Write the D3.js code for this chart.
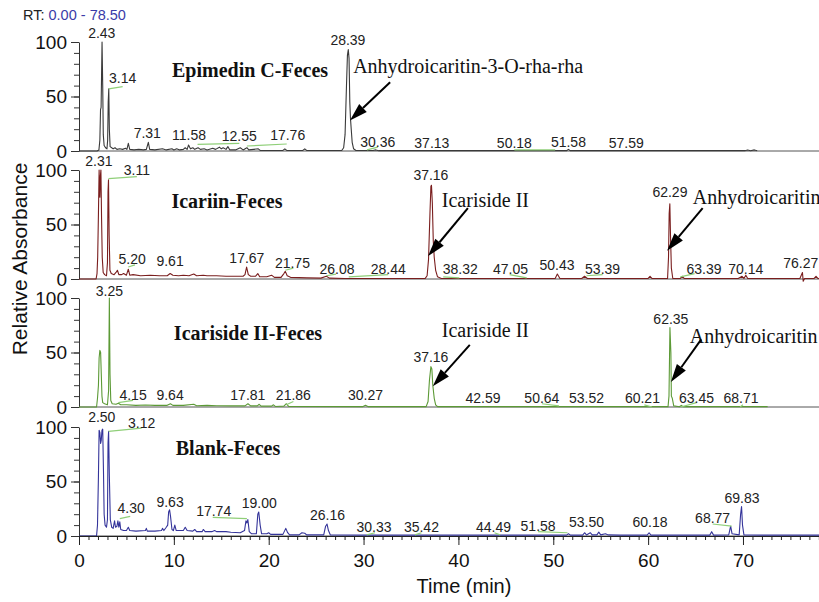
<!DOCTYPE html>
<html>
<head>
<meta charset="utf-8">
<script src="https://cdn.jsdelivr.net/npm/d3@7"></script>
<style>
  body { margin: 0; background: #fff; }
  svg { display: block; font-family: Arial, "Liberation Sans", sans-serif; }
</style>
</head>
<body>
<div id="js_chart"></div>
<script>
// ---- data: [time (min), relative absorbance] ----
const panelNames = ["Epimedin C-Feces", "Icariin-Feces", "Icariside II-Feces", "Blank-Feces"];
const panelColors = ["#3a3a3a", "#7a1e1e", "#5c9a36", "#34349a"];

const epimedinTrace = [[0,0],[1.9,0],[2.1,1],[2.2,10],[2.27,38],[2.33,40],[2.38,70],[2.43,100],[2.5,60],[2.56,15],[2.65,5],[2.8,3],[2.95,2],[3.02,10],[3.08,45],[3.14,57],[3.2,20],[3.28,4],[3.45,3],[3.6,2],[3.8,3],[4.0,1.5],[4.3,2],[4.6,1.5],[4.9,2.5],[5.05,1.5],[5.2,7],[5.35,1.5],[5.8,1],[6.3,1.5],[6.8,1],[7.1,1.5],[7.31,8],[7.45,1.5],[8.0,1],[8.8,2],[9.2,1],[9.8,2],[10.0,1],[10.3,2],[10.6,1],[11.0,1.5],[11.2,3],[11.4,1.5],[11.55,5.5],[11.75,2],[12.0,3],[12.2,1.5],[12.55,3],[12.8,1.5],[13.2,2],[13.5,1],[14.1,2.5],[14.4,1.5],[14.8,3.5],[15.0,2],[15.2,3],[15.5,1.5],[15.7,4],[15.9,1],[16.5,1],[17.0,3],[17.3,1],[17.7,3],[17.9,1],[18.9,2],[19.1,0.5],[21.5,0.5],[21.7,2],[21.9,0.5],[23.6,0.5],[23.8,2],[24.0,0.5],[27.7,0.5],[27.9,3],[28.05,15],[28.2,60],[28.3,88],[28.39,93],[28.47,85],[28.55,45],[28.62,30],[28.7,20],[28.8,8],[28.95,2],[29.2,0.5],[31.0,0.5],[31.3,1],[31.6,0.3],[51.4,0.3],[51.6,1.5],[51.8,0.3],[70.2,0.3],[70.5,1],[70.8,0.3],[71.2,1],[71.5,0.3]];

const icariinTrace = [[0,0],[1.8,0],[1.9,5],[1.97,20],[2.05,60],[2.12,100],[2.2,75],[2.26,95],[2.31,100],[2.38,55],[2.45,20],[2.55,6],[2.7,4],[2.9,3],[3.0,15],[3.06,80],[3.11,91],[3.18,40],[3.26,8],[3.4,5],[3.7,4],[3.9,6],[4.05,8],[4.2,4],[4.5,4],[4.7,5],[5.0,3.5],[5.2,9],[5.35,3.5],[5.7,4],[6.5,3],[7.5,3.5],[8.5,3],[9.3,3],[9.61,5],[9.9,3.5],[10.5,3],[11.0,3.5],[11.6,3],[12.1,4.5],[12.4,3],[13.1,3.5],[13.5,3],[14.5,3],[15.5,2.5],[16.5,2.5],[17.3,2.5],[17.5,4],[17.67,11],[17.85,4],[18.1,2.5],[18.6,2.5],[18.85,5],[19.05,2],[19.8,2],[20.3,3.5],[20.6,1.5],[21.3,1.5],[21.6,5],[21.75,7],[21.95,3],[22.3,1.5],[24.0,1],[25.5,0.8],[26.08,2.5],[26.4,0.8],[28.0,0.5],[33.0,0.5],[36.5,0.6],[36.7,3],[36.85,18],[37.0,60],[37.1,85],[37.16,86],[37.25,70],[37.35,35],[37.45,20],[37.6,8],[37.8,2],[38.2,0.5],[44.0,0.5],[50.2,0.5],[50.43,4.5],[50.7,0.5],[53.0,0.5],[53.3,2.5],[53.6,0.5],[60.0,0.5],[60.2,2.5],[60.4,0.5],[62.05,0.5],[62.15,20],[62.22,60],[62.29,69],[62.36,40],[62.45,10],[62.6,0.5],[63.4,0.5],[63.6,2.5],[63.8,0.5],[69.5,0.5],[69.9,2.5],[70.1,0.5],[70.3,3.5],[70.5,0.5],[76.0,0.5],[76.27,6],[76.35,-2],[76.5,0.5],[77.5,0.5],[77.7,2.5],[77.9,0.5],[78.5,0.5]];

const icarisideTrace = [[0,0],[1.85,0],[1.95,8],[2.05,20],[2.12,45],[2.2,52],[2.28,50],[2.35,30],[2.42,10],[2.5,4],[2.7,3],[3.0,2],[3.12,15],[3.2,100],[3.27,30],[3.35,6],[3.5,3],[3.9,2.5],[4.15,3.5],[4.4,2],[5.0,2],[6.0,1.5],[7.0,1.8],[8.0,1.5],[9.3,1.5],[9.64,3],[9.9,1.5],[11.0,1.5],[12.1,2.5],[12.4,1.2],[13.5,1.5],[14.5,1.2],[16.0,1],[17.5,1],[17.81,3],[18.1,1],[18.8,1],[19.0,2.5],[19.2,0.8],[20.3,0.8],[20.5,2],[20.7,0.5],[21.6,0.8],[21.86,3],[22.1,0.5],[29.9,0.3],[30.2,1.5],[30.5,0.3],[36.6,0.3],[36.8,5],[36.95,25],[37.1,37],[37.2,35],[37.3,20],[37.45,8],[37.6,2],[37.8,0.3],[62.1,0.3],[62.2,10],[62.3,73],[62.4,50],[62.45,10],[62.55,8],[62.7,1],[63.3,0.3],[63.5,1.5],[63.7,0.3],[72.6,0.3]];

const blankTrace = [[0,0],[1.85,0],[1.95,10],[2.05,55],[2.12,97],[2.2,95],[2.28,85],[2.35,88],[2.42,97],[2.5,98],[2.58,60],[2.65,20],[2.75,10],[2.9,8],[3.0,15],[3.06,85],[3.12,96],[3.2,55],[3.3,15],[3.45,8],[3.6,7],[3.75,14],[3.85,8],[4.0,9],[4.1,14],[4.2,8],[4.3,13],[4.4,6],[4.7,5],[5.0,5],[5.2,8],[5.35,5],[6.0,4.5],[7.0,5],[7.1,7],[7.2,4.5],[8.0,4.5],[8.7,5],[8.8,7],[8.95,5],[9.2,8],[9.35,10],[9.45,22],[9.55,24],[9.65,18],[9.8,6],[9.95,5],[10.1,10],[10.25,5],[11.0,5],[11.2,8],[11.4,5],[12.0,4.5],[12.2,6],[12.4,4],[13.0,4],[13.1,6],[13.3,4],[14.0,4],[14.3,5],[14.5,4],[15.5,4],[16.0,3.5],[17.0,3],[17.45,5],[17.6,14],[17.7,12],[17.8,15],[17.95,4],[18.2,2],[18.7,2],[18.85,20],[18.95,22],[19.1,10],[19.25,2],[19.8,2],[20.0,3],[20.2,1.5],[21.5,1.5],[21.8,7],[22.0,3],[22.2,1],[23.2,1],[23.5,3],[23.8,2.5],[24.0,1],[25.8,1],[26.0,9],[26.15,11],[26.3,5],[26.5,1],[30.0,0.8],[51.4,0.8],[51.6,2],[51.8,0.8],[53.1,0.8],[53.3,3],[53.5,1],[53.9,3],[54.1,1],[54.6,1],[54.8,3.5],[55.0,1],[55.5,2],[55.8,1],[57.0,0.8],[59.9,0.8],[60.1,3],[60.3,0.8],[66.5,0.8],[66.7,4],[66.9,0.8],[68.5,1],[68.7,9],[68.85,2],[69.6,1],[69.75,20],[69.85,27],[69.95,10],[70.1,1],[72.0,0.8],[78.5,0.8]];

const traces = [epimedinTrace, icariinTrace, icarisideTrace, blankTrace];

// peak labels: [text, time, absorbance]
const epimedinLabels = [["2.43",2.4,104],["3.14",4.6,62],["7.31",7.2,12],["11.58",11.6,10],["12.55",16.9,9],["17.76",22.0,10],["28.39",28.35,97],["30.36",31.5,4],["37.13",37.2,3],["50.18",45.9,3],["51.58",51.6,4],["57.59",57.7,3]];
const icariinLabels = [["2.31",2.1,104],["3.11",6.1,95],["5.20",5.6,14],["9.61",9.6,12],["17.67",17.7,15],["21.75",22.5,10],["26.08",27.2,5],["28.44",32.6,5],["37.16",37.1,91],["38.32",40.2,5],["47.05",45.5,5],["50.43",50.4,8],["53.39",55.2,5],["62.29",62.3,75],["63.39",65.9,5],["70.14",70.3,5],["76.27",76.1,10]];
const icarisideLabels = [["3.25",3.2,102],["4.15",5.7,6],["9.64",9.6,6],["17.81",17.8,6],["21.86",22.6,6],["30.27",30.2,6],["37.16",37.1,41],["42.59",42.6,4],["50.64",48.8,4],["53.52",53.5,4],["60.21",59.4,4],["62.35",62.4,76],["63.45",65.1,4],["68.71",69.8,4]];
const blankLabels = [["2.50",2.4,105],["3.12",6.6,99],["4.30",5.5,21],["9.63",9.6,27],["17.74",14.2,18],["19.00",19.0,26],["26.16",26.2,15],["30.33",31.1,4],["35.42",36.1,4],["44.49",43.7,4],["51.58",48.4,5],["53.50",53.5,8],["60.18",60.2,8],["68.77",66.8,12],["69.83",69.9,30]];
const labels = [epimedinLabels, icariinLabels, icarisideLabels, blankLabels];

// green leader lines: [t1, v1, t2, v2]
const epimedinLeaders = [[3.14,57,4.6,59],[12.5,6,16.9,7],[17.7,4.6,21.9,6.4],[30.36,1,31.5,3.5],[45.9,1,50.2,1]];
const icariinLeaders = [[3.11,92,6.1,94],[5.2,11,5.9,13],[21.75,8,22.6,10],[26.08,3,27.1,4.5],[28.44,2,32.6,4],[38.4,2,40.1,1],[45.4,4,47.2,1],[53.5,3,55.2,4],[63.4,2,64.9,5]];
const icarisideLeaders = [[4.15,4,5.7,6],[21.86,2,22.6,5],[48.8,3,50.6,1],[59.6,2,60.4,0],[63.45,0,65.1,4],[69.7,0,70.0,2]];
const blankLeaders = [[3.12,96,6.6,99],[4.3,16,5.4,18],[14.1,17,17.7,16],[30.33,1,31.2,3],[35.42,1,36.1,3],[43.8,3,44.4,1],[48.4,4,51.5,3],[66.8,11,68.8,9]];
const leaders = [epimedinLeaders, icariinLeaders, icarisideLeaders, blankLeaders];

// compound arrows: [text, textTime, textAbs, fromTime, fromAbs, tipTime, tipAbs]
const epimedinArrows = [["Anhydroicaritin-3-O-rha-rha",28.9,72,32.8,63,28.56,28]];
const icariinArrows = [["Icariside II",38.25,66,41.0,65,36.8,21],["Anhydroicaritin",64.7,69,65.75,65,62.0,26]];
const icarisideArrows = [["Icariside II",38.25,64,41.2,57,37.3,19],["Anhydroicaritin",64.4,59,65.6,62,62.4,23]];
const blankArrows = [];
const arrows = [epimedinArrows, icariinArrows, icarisideArrows, blankArrows];

const xMajorTicks = [0, 10, 20, 30, 40, 50, 60, 70];
const yMajorTicks = [0, 50, 100];

// ---- layout ----
const width = 819;
const height = 602;
const panelTops = [42, 170, 298, 427];
const panelH = 109;
const titlePos = [[250, 77], [227, 208], [248, 340], [228, 455]];
const serif = "'Times New Roman', 'Liberation Serif', serif";

const svg = d3.select("#js_chart")
  .append("svg")
  .attr("width", width)
  .attr("height", height);

const x = d3.scaleLinear().domain([0, 78.5]).range([79, 823.6]);

// RT header
const rt = svg.append("text")
  .attr("x", 23)
  .attr("y", 20)
  .attr("font-size", 14.5);
rt.append("tspan").attr("fill", "#222").text("RT: ");
rt.append("tspan").attr("fill", "#3b3ba8").text("0.00 - 78.50");

// y title
svg.append("text")
  .attr("transform", "translate(27,259) rotate(-90)")
  .attr("text-anchor", "middle")
  .attr("font-size", 21)
  .attr("fill", "#111")
  .text("Relative Absorbance");

function drawArrow(g, x1, y1, x2, y2) {
  const ang = Math.atan2(y2 - y1, x2 - x1);
  const len = 18;
  const half = 5.5;
  const bx = x2 - len * Math.cos(ang);
  const by = y2 - len * Math.sin(ang);
  g.append("line")
    .attr("x1", x1).attr("y1", y1)
    .attr("x2", bx).attr("y2", by)
    .attr("stroke", "#000")
    .attr("stroke-width", 2);
  const px = -Math.sin(ang) * half;
  const py = Math.cos(ang) * half;
  g.append("path")
    .attr("d", `M${x2},${y2}L${bx + px},${by + py}L${bx - px},${by - py}Z`)
    .attr("fill", "#000");
}

function drawPanel(i) {
  const top = panelTops[i];
  const y = d3.scaleLinear().domain([0, 100]).range([top + panelH, top]);
  const g = svg.append("g");

  // zero line across the panel
  g.append("line")
    .attr("x1", x(0)).attr("x2", width)
    .attr("y1", y(0)).attr("y2", y(0))
    .attr("stroke", "#555")
    .attr("stroke-width", 1);

  // y axis: minor then major ticks
  g.append("g")
    .attr("transform", `translate(${x(0)},0)`)
    .call(d3.axisLeft(y).tickValues(d3.range(0, 101, 10)).tickSize(5).tickFormat(""))
    .call(a => a.select(".domain").remove())
    .call(a => a.selectAll("line").attr("stroke", "#333"));
  g.append("g")
    .attr("transform", `translate(${x(0)},0)`)
    .call(d3.axisLeft(y).tickValues(yMajorTicks).tickSize(8).tickSizeOuter(0).tickPadding(4))
    .call(a => a.select(".domain").attr("stroke", "#333"))
    .call(a => a.selectAll("line").attr("stroke", "#333"))
    .call(a => a.selectAll("text")
      .attr("font-size", 19)
      .attr("font-family", "Arial, 'Liberation Sans', sans-serif")
      .attr("fill", "#111"));

  // chromatogram trace
  const line = d3.line()
    .x(d => x(d[0]))
    .y(d => y(d[1]));
  g.append("path")
    .datum(traces[i])
    .attr("d", line)
    .attr("fill", "none")
    .attr("stroke", panelColors[i])
    .attr("stroke-width", 1.1)
    .attr("stroke-linejoin", "round");

  // green leader lines
  g.selectAll(".leader")
    .data(leaders[i])
    .join("line")
      .attr("class", "leader")
      .attr("x1", d => x(d[0])).attr("y1", d => y(d[1]))
      .attr("x2", d => x(d[2])).attr("y2", d => y(d[3]))
      .attr("stroke", "#8fcf78")
      .attr("stroke-width", 1.2);

  // peak labels
  g.selectAll(".peak")
    .data(labels[i])
    .join("text")
      .attr("class", "peak")
      .attr("x", d => x(d[1]))
      .attr("y", d => y(d[2]))
      .attr("text-anchor", "middle")
      .attr("font-size", 14)
      .attr("fill", "#222")
      .text(d => d[0]);

  // panel title
  g.append("text")
    .attr("x", titlePos[i][0])
    .attr("y", titlePos[i][1])
    .attr("text-anchor", "middle")
    .attr("font-family", serif)
    .attr("font-weight", "bold")
    .attr("font-size", 20)
    .attr("fill", "#111")
    .text(panelNames[i]);

  // compound annotations
  arrows[i].forEach(a => {
    g.append("text")
      .attr("x", x(a[1]))
      .attr("y", y(a[2]))
      .attr("font-family", serif)
      .attr("font-size", 20)
      .attr("fill", "#111")
      .text(a[0]);
    drawArrow(g, x(a[3]), y(a[4]), x(a[5]), y(a[6]));
  });

  return y;
}

const yScales = panelTops.map((_, i) => drawPanel(i));

// time axis under the last panel
const yLast = yScales[3];
const xAxisG = svg.append("g")
  .attr("transform", `translate(0,${yLast(0)})`);
xAxisG.append("g")
  .call(d3.axisBottom(x).tickValues(d3.range(0, 79, 1)).tickSize(4).tickFormat(""))
  .call(a => a.select(".domain").remove())
  .call(a => a.selectAll("line").attr("stroke", "#222"));
xAxisG.append("g")
  .call(d3.axisBottom(x).tickValues(xMajorTicks).tickSize(9).tickSizeOuter(0).tickPadding(9))
  .call(a => a.select(".domain").attr("stroke", "#222"))
  .call(a => a.selectAll("line").attr("stroke", "#222"))
  .call(a => a.selectAll("text")
    .attr("font-size", 19)
    .attr("font-family", "Arial, 'Liberation Sans', sans-serif")
    .attr("fill", "#111"));

svg.append("text")
  .attr("x", 464)
  .attr("y", 593)
  .attr("text-anchor", "middle")
  .attr("font-size", 20)
  .attr("fill", "#111")
  .text("Time (min)");
</script>
</body>
</html>
